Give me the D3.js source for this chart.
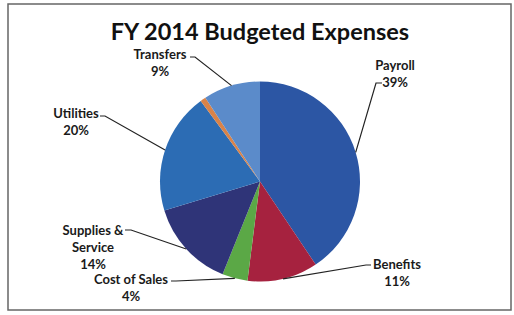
<!DOCTYPE html>
<html>
<head>
<meta charset="utf-8">
<script src="https://cdn.jsdelivr.net/npm/d3@7"></script>
<style>
  html, body { margin: 0; padding: 0; background: #fff; }
  svg { display: block; }
  .lbl { font-family: Lato, "Open Sans", sans-serif; font-weight: 700; font-size: 13px; fill: #1a1a1a; }
  .title { font-family: Lato, "Open Sans", sans-serif; font-weight: 700; font-size: 23.5px; fill: #111; }
  .leader { fill: none; stroke: #222; stroke-width: 1.2; }
</style>
</head>
<body>
<div class="chart"></div>
<script>
// data (clockwise from 12 o'clock)
const categories = ['Payroll', 'Benefits', 'Cost of Sales', 'Supplies & Service', 'Utilities', 'Other', 'Transfers']
const values = [40.6, 11.4, 4.1, 14.2, 19.6, 0.9, 9.2]
const pctLabels = ['39%', '11%', '4%', '14%', '20%', '', '9%']
const colors = ['#2c56a4', '#a6223f', '#5ba846', '#2f3478', '#2c6cb4', '#d98349', '#5b8bca']

// label layout: text lines, centre x, first line y, leader start + elbow
const labelLayout = {
  'Payroll': { lines: ['Payroll'], x: 395, y: 65, start: [382, 83], elbow: [376, 83] },
  'Benefits': { lines: ['Benefits'], x: 397, y: 264, start: [371, 265], elbow: [366, 265] },
  'Cost of Sales': { lines: ['Cost of Sales'], x: 131, y: 279, start: [171, 281], elbow: [176, 281] },
  'Supplies & Service': { lines: ['Supplies &', 'Service'], x: 93, y: 230, start: [125, 230], elbow: [131, 230] },
  'Utilities': { lines: ['Utilities'], x: 76, y: 113, start: [100, 116], elbow: [105, 116] },
  'Transfers': { lines: ['Transfers'], x: 160, y: 54, start: [190, 57], elbow: [195, 57] }
}

const width = 514
const height = 315
const cx = 260, cy = 181.5, radius = 100
const lineH = 17

let svg = d3.select('.chart').append('svg')
.attr('width', width)
.attr('height', height)

svg.append('rect')
.attr('x', 8).attr('y', 4)
.attr('width', 503).attr('height', 306)
.attr('fill', '#fff')
.attr('stroke', '#666')
.attr('stroke-width', 1.5)

svg.append('text')
.attr('class', 'title')
.attr('x', cx)
.attr('y', 40)
.attr('text-anchor', 'middle')
.text('FY 2014 Budgeted Expenses')

let rows = categories.map((c, i) => ({ name: c, value: values[i], pct: pctLabels[i], color: colors[i] }))

let pie = d3.pie().sort(null).value(d => d.value)
let arc = d3.arc().innerRadius(0).outerRadius(radius)

let arcs = pie(rows)

let g = svg.append('g').attr('transform', `translate(${cx},${cy})`)

g.selectAll('path')
.data(arcs)
.enter()
.append('path')
.attr('d', arc)
.attr('fill', d => d.data.color)

// leaders run from the label to the middle of the slice edge
let labelled = arcs.filter(d => labelLayout[d.data.name])

svg.append('g').selectAll('path')
.data(labelled)
.enter()
.append('path')
.attr('class', 'leader')
.attr('d', d => {
  let L = labelLayout[d.data.name]
  let mid = (d.startAngle + d.endAngle) / 2
  let ex = cx + radius * Math.sin(mid)
  let ey = cy - radius * Math.cos(mid)
  return d3.line()([L.start, L.elbow, [ex, ey]])
})

let labels = svg.append('g').selectAll('text')
.data(labelled)
.enter()
.append('text')
.attr('class', 'lbl')
.attr('text-anchor', 'middle')
.attr('dominant-baseline', 'central')

labels.each(function(d) {
  let L = labelLayout[d.data.name]
  let el = d3.select(this)
  L.lines.concat([d.data.pct]).forEach((t, k) => {
    el.append('tspan')
    .attr('x', L.x)
    .attr('y', L.y + k * lineH)
    .text(t)
  })
})
</script>
</body>
</html>
